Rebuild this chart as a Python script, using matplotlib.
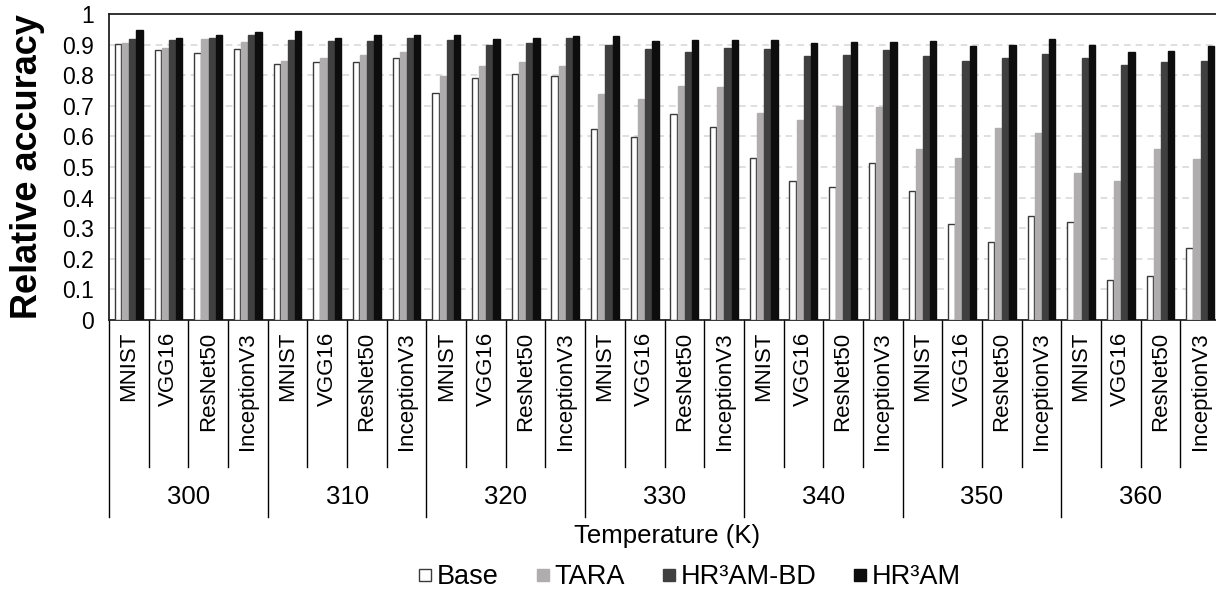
import numpy as np
import matplotlib
matplotlib.use('Agg')
import matplotlib.pyplot as plt
from matplotlib.lines import Line2D
import matplotlib.transforms as mtransforms

plt.rcParams['font.family'] = ['Liberation Sans', 'DejaVu Sans']

temps = ['300', '310', '320', '330', '340', '350', '360']
models = ['MNIST', 'VGG16', 'ResNet50', 'InceptionV3']
series = ['Base', 'TARA', 'HR³AM-BD', 'HR³AM']

# values per temperature, in model order MNIST, VGG16, ResNet50, InceptionV3
base = [0.902, 0.882, 0.874, 0.884,
        0.835, 0.842, 0.844, 0.856,
        0.742, 0.791, 0.804, 0.796,
        0.624, 0.598, 0.674, 0.631,
        0.530, 0.453, 0.434, 0.512,
        0.422, 0.313, 0.255, 0.340,
        0.320, 0.130, 0.143, 0.236]
tara = [0.904, 0.889, 0.918, 0.908,
        0.845, 0.856, 0.866, 0.875,
        0.798, 0.830, 0.842, 0.830,
        0.738, 0.721, 0.764, 0.763,
        0.676, 0.652, 0.698, 0.695,
        0.560, 0.528, 0.627, 0.611,
        0.481, 0.453, 0.560, 0.527]
hr3am_bd = [0.919, 0.915, 0.921, 0.931,
            0.914, 0.911, 0.912, 0.920,
            0.914, 0.900, 0.906, 0.920,
            0.900, 0.887, 0.876, 0.890,
            0.886, 0.862, 0.866, 0.881,
            0.862, 0.848, 0.855, 0.868,
            0.855, 0.833, 0.842, 0.846]
hr3am = [0.949, 0.923, 0.933, 0.941,
         0.943, 0.922, 0.932, 0.931,
         0.933, 0.918, 0.923, 0.927,
         0.927, 0.911, 0.915, 0.914,
         0.916, 0.904, 0.909, 0.908,
         0.913, 0.897, 0.898, 0.918,
         0.900, 0.876, 0.880, 0.895]

colors = ['white', '#afadad', '#404040', '#0d0d0d']
edges = ['#3a3a3a', '#afadad', '#404040', '#0d0d0d']

fig = plt.figure(figsize=(12.16, 5.98), dpi=100)
ax = fig.add_axes([109 / 1216, 1 - 320 / 598, 1111 / 1216, 306 / 598])

n = len(base)
x = np.arange(n)
step = 0.18
w = 0.16
for k, vals in enumerate([base, tara, hr3am_bd, hr3am]):
    ax.bar(x + (k - 1.5) * step, vals, width=w, color=colors[k],
           edgecolor=edges[k], linewidth=1.0, label=series[k], zorder=3)

ax.set_xlim(-0.5, n - 0.5)
ax.set_ylim(0, 1)
ax.set_yticks(np.arange(0, 1.01, 0.1))
ax.set_yticklabels(['0', '0.1', '0.2', '0.3', '0.4', '0.5', '0.6', '0.7', '0.8', '0.9', '1'])
ax.tick_params(axis='y', length=0, labelsize=16.5, pad=11)
ax.set_xticks([])
for yv in np.arange(0.1, 0.95, 0.1):
    ax.axhline(yv, color='#d9d9d9', lw=1.2, ls=(0, (4, 3)), zorder=1)
for s in ax.spines.values():
    s.set_color('#222222')
    s.set_linewidth(1.3)

ax.set_ylabel('Relative accuracy', fontsize=26, fontweight='bold', labelpad=12)

# category axis below the plot
trans = mtransforms.blended_transform_factory(ax.transData, ax.transAxes)
ax_h = 306.0
for i in range(n + 1):
    xb = i - 0.5
    if i % 4 == 0:
        ax.plot([xb, xb], [0, -197 / ax_h], transform=trans, color='black', lw=1, clip_on=False)
    else:
        ax.plot([xb, xb], [0, -147 / ax_h], transform=trans, color='black', lw=1, clip_on=False)
for i in range(n):
    ax.text(i, -12 / ax_h, models[i % 4], transform=trans, rotation=90,
            ha='center', va='top', fontsize=16)
for g, t in enumerate(temps):
    ax.text(4 * g + 1.5, -177 / ax_h, t, transform=trans, ha='center', va='center', fontsize=18.5)
fig.text(667 / 1216, 1 - 536 / 598, 'Temperature (K)', ha='center', va='center', fontsize=18.5)

handles = [Line2D([], [], marker='s', ls='none', markersize=8.5, markerfacecolor=colors[k],
                  markeredgecolor=edges[k], markeredgewidth=1) for k in range(4)]
fig.legend(handles, series, loc='center', bbox_to_anchor=(690 / 1216, 1 - 577 / 598),
           ncol=4, frameon=False, fontsize=19.5, handletextpad=0.2, columnspacing=1.4,
           handlelength=0.45, borderpad=0.2)

fig.savefig('out.png', dpi=100)
